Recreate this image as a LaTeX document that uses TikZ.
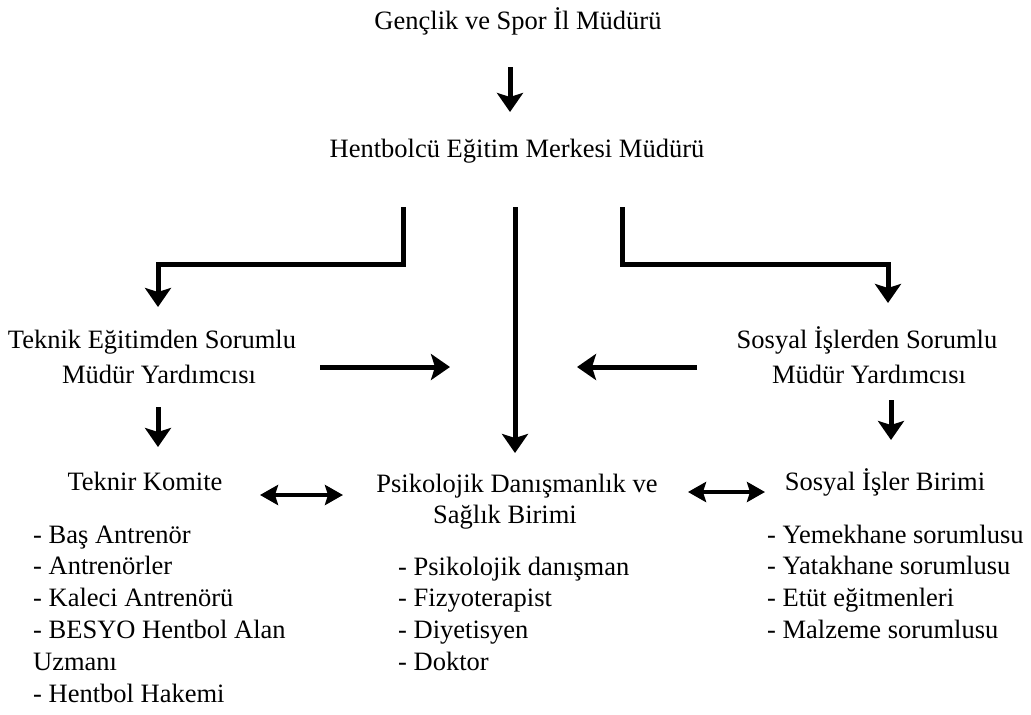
\documentclass[tikz,border=0pt]{standalone}
\usepackage{fontspec}
\setmainfont{Liberation Serif}
\usetikzlibrary{arrows.meta}
\newcommand{\orgfont}{\fontsize{26.5}{31.8}\selectfont}

\begin{document}
\begin{tikzpicture}[x=1pt, y=-1pt,
    lbl/.style={inner sep=0pt, anchor=base, font=\orgfont},
    itm/.style={inner sep=0pt, anchor=base west, font=\orgfont},
    arr/.style={line width=5pt, line join=miter, -{Stealth[length=19pt,width=26pt,inset=4pt]}},
    dbl/.style={line width=4pt, {Stealth[length=18pt,width=20pt,inset=3pt]}-{Stealth[length=18pt,width=20pt,inset=3pt]}}]
                \useasboundingbox (0,0) rectangle (1031,715);
                \node[lbl] (ilmd) at (518,29) {Gençlik ve Spor İl Müdürü};
                \node[lbl] (hemm) at (517,157) {Hentbolcü Eğitim Merkesi Müdürü};
                \node[lbl] (tek1) at (152,348) {Teknik Eğitimden Sorumlu};
                \node[lbl] (tek2) at (159,383) {Müdür Yardımcısı};
                \node[lbl] (sos1) at (867,348) {Sosyal İşlerden Sorumlu};
                \node[lbl] (sos2) at (869,383) {Müdür Yardımcısı};
                \node[lbl] (komite) at (145,490) {Teknir Komite};
                \node[lbl] (psk1) at (517,492) {Psikolojik Danışmanlık ve};
                \node[lbl] (psk2) at (505,523) {Sağlık Birimi};
                \node[lbl] (sosb) at (885,490) {Sosyal İşler Birimi};
                \foreach \t [count=\i] in {- Baş Antrenör, - Antrenörler, - Kaleci Antrenörü,
                        - BESYO Hentbol Alan, Uzmanı, - Hentbol Hakemi}
                    \node[itm] (kom\i) at (33,543+31.8*\i-31.8) {\t};
                \foreach \t [count=\i] in {- Psikolojik danışman, - Fizyoterapist, - Diyetisyen, - Doktor}
                    \node[itm] (psk\i) at (398,575+31.8*\i-31.8) {\t};
                \foreach \t [count=\i] in {- Yemekhane sorumlusu, - Yatakhane sorumlusu,
                        - Etüt eğitmenleri, - Malzeme sorumlusu}
                    \node[itm] (sb\i) at (767,543+31.8*\i-31.8) {\t};
                \coordinate (a1) at (510,67);   \coordinate (b1) at (510,112);
                \coordinate (a2) at (403,207);  \coordinate (k2) at (403,264);
                \coordinate (m2) at (158,264);  \coordinate (b2) at (158,307);
                \coordinate (a3) at (515,207);  \coordinate (b3) at (515,453);
                \coordinate (a4) at (622,207);  \coordinate (k4) at (622,264);
                \coordinate (m4) at (888,264);  \coordinate (b4) at (888,303);
                \coordinate (a5) at (320,367);  \coordinate (b5) at (450,367);
                \coordinate (a6) at (697,367);  \coordinate (b6) at (577,367);
                \coordinate (a7) at (158,407);  \coordinate (b7) at (158,447);
                \coordinate (a8) at (891,400);  \coordinate (b8) at (891,440);
                \coordinate (d1) at (260,495);  \coordinate (e1) at (343,495);
                \coordinate (d2) at (688,492);  \coordinate (e2) at (765,492);
                \draw[arr] (a1) -- (b1);
                \draw[arr] (a2) -- (k2) -- (m2) -- (b2);
                \draw[arr] (a3) -- (b3);
                \draw[arr] (a4) -- (k4) -- (m4) -- (b4);
                \draw[arr] (a5) -- (b5);
                \draw[arr] (a6) -- (b6);
                \draw[arr] (a7) -- (b7);
                \draw[arr] (a8) -- (b8);
                \draw[dbl] (d1) -- (e1);
                \draw[dbl] (d2) -- (e2);
            \end{tikzpicture}
\end{document}
